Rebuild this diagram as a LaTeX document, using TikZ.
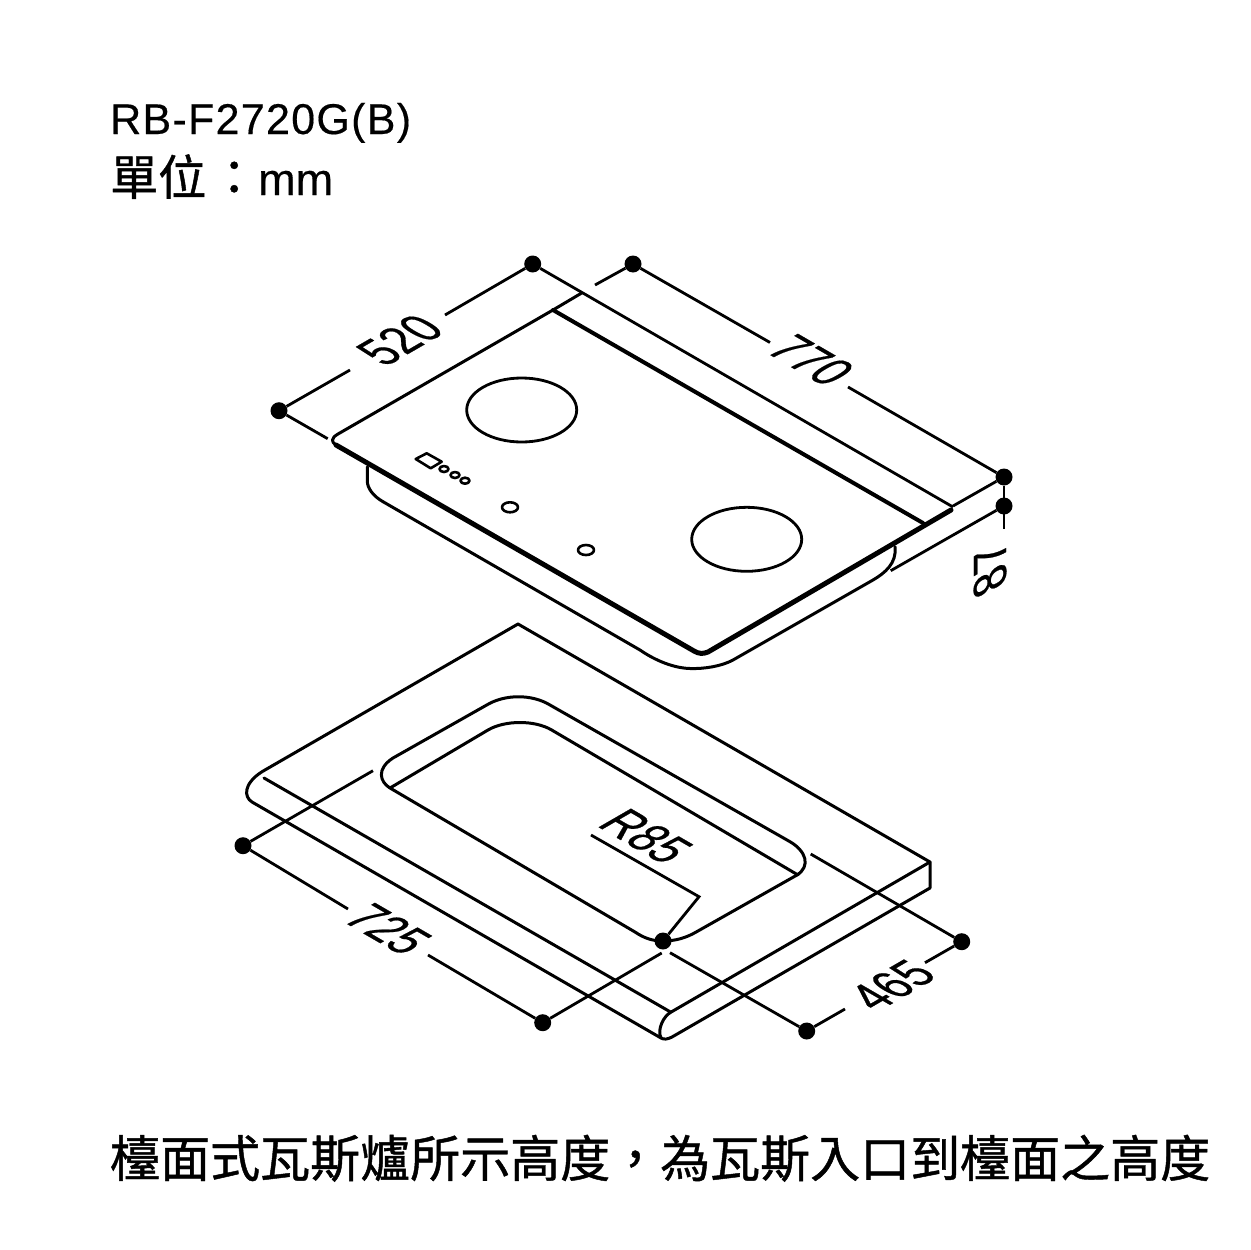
\documentclass[tikz,border=0pt]{standalone}
\usepackage{fontspec}
\setmainfont{Liberation Sans}
\newfontfamily\cjkfont[FakeBold=0.9]{Noto Sans CJK TC}
\newfontfamily\modelfont[FakeBold=0.4,LetterSpace=3]{Liberation Sans}
\newfontfamily\unitfont[FakeBold=0.4]{Liberation Sans}
\newfontfamily\dimfont[FakeBold=0.5]{Liberation Sans}
\tikzset{
    part/.style={line width=3pt,line join=round,line cap=round},
    thickpart/.style={line width=5pt,line join=round,line cap=round},
    dimline/.style={line width=2.8pt},
    dimdot/.style={circle,fill=black,inner sep=0pt,minimum size=17pt},
    dimtext/.style={inner sep=0pt,font=\fontsize{54}{54}\dimfont},
    alongup/.style={dimtext,cm={.69,.4,-.866,.5,(0,0)}},
    alongdown/.style={dimtext,cm={.69,-.4,.866,.5,(0,0)}},
    alongvert/.style={dimtext,cm={0,.8,-.866,-.5,(0,0)}},
    hob/.style={part,line width=2.8pt},
    title/.style={anchor=base west,inner sep=0pt},
}
\begin{document}
\begin{tikzpicture}[x=1pt,y=-1pt]
    \useasboundingbox (0,0) rectangle (1250,1250);

    % texts
    \node[title,font=\fontsize{43}{43}\modelfont] (model) at (110,134) {RB-F2720G(B)};
    \node[title,font=\fontsize{48}{48}\cjkfont] (unit) at (110,195) {單位\hspace{4pt}：\fontsize{45}{45}\unitfont mm};
    \node[title,font=\fontsize{50}{50}\cjkfont] (note) at (110,1177) {檯面式瓦斯爐所示高度，為瓦斯入口到檯面之高度};

    % dots
    \foreach \name/\x/\y in {A/532.7/264,B/633/264,C/279/410.7,D/1004/477,E/1004/506,
                             F/243/845.7,G/542.7/1022.7,R/663/941,I/806.7/1031,J/961.7/941.7}{
        \node[dimdot] (dot\name) at (\x,\y) {};
    }

    % cooktop
    \draw[part] (553,310) -- (338,434) .. controls (331,438) and (331,442) .. (336,445);
    \draw[part] (553,310) -- (581.7,293);
    \draw[thickpart] (336,445) -- (694,651) .. controls (699,654) and (703,654) .. (708,652) -- (951,510);
    \draw[thickpart,line width=4pt] (553,310) -- (923,523);
    \draw[part] (367.3,466.7) -- (367.3,481) .. controls (367.3,488) and (373,496) .. (383,501.7)
        -- (640,650) .. controls (650,657) and (670,668) .. (690,668.5)
        .. controls (705,669) and (722,666) .. (733,660) -- (873,580)
        .. controls (885,573) and (897,563) .. (895,546.7);
    \draw[hob] (521.7,410) ellipse (55 and 32);
    \draw[hob] (746.7,539.3) ellipse (55 and 32);
    \draw[part,line width=2.6pt] (415.7,459) -- (426.7,453.3) -- (441.7,461.7) -- (430.7,468.3) -- cycle;
    \foreach \x/\y in {444/469,455/475,465/480.7}{
        \draw[part,line width=2.6pt] (\x,\y) ellipse (4.5 and 3);
    }
    \draw[part,line width=2.6pt] (510,507.3) ellipse (8 and 5);
    \draw[part,line width=2.6pt] (586,550) ellipse (8 and 5);

    % counter top
    \draw[part] (518,624) -- (930,862) -- (930,888) -- (672,1037)
        .. controls (668,1039) and (664,1040) .. (661,1038) -- (252,802)
        .. controls (244,797) and (243,784) .. (262,771.7) -- cycle;
    \draw[part] (930,862) -- (671.7,1011.7) .. controls (663,1016) and (657,1030) .. (661,1038);
    \draw[part] (264,778) -- (670,1011.7);

    % cut out
    \draw[part] (390,788) .. controls (380,782) and (376,769) .. (393,758)
        -- (486.7,705) .. controls (505,694) and (532,694) .. (550,705)
        -- (790,841.7) .. controls (806,851) and (811,866) .. (797,875)
        -- (696.7,931.7) .. controls (686,938) and (675,941) .. (663,941)
        .. controls (652,941) and (644,938) .. (635,932) -- cycle;
    \draw[part] (390,788) -- (488,730) .. controls (505,720) and (535,720) .. (551.7,730) -- (798,875);

    % free ends of the dimension lines
    \coordinate (endAa) at (445,315);
    \coordinate (endCa) at (350,370);
    \coordinate (endCb) at (327.7,438.7);
    \coordinate (endAb) at (953,507);
    \coordinate (endBa) at (595,285);
    \coordinate (endBb) at (770,342.5);
    \coordinate (endDa) at (848,387);
    \coordinate (endDb) at (953,506);
    \coordinate (endEa) at (890.7,570.7);
    \coordinate (endEb) at (1004,529);
    \coordinate (endFa) at (373,770.7);
    \coordinate (endFb) at (348,909);
    \coordinate (endGa) at (428,955);
    \coordinate (endGb) at (661.7,953);
    \coordinate (endIa) at (670,952.7);
    \coordinate (endIb) at (845,1009);
    \coordinate (endJa) at (925,962.7);
    \coordinate (endJb) at (810.7,854);
    \coordinate (endRa) at (591,835);
    \coordinate (bendR) at (699,896.7);

    % dimension lines
    \draw[dimline] (dotA) -- (endAa);
    \draw[dimline] (dotC) -- (endCa);
    \draw[dimline] (dotC) -- (endCb);
    \draw[dimline] (dotA) -- (endAb);
    \draw[dimline] (dotB) -- (endBa);
    \draw[dimline] (dotB) -- (endBb);
    \draw[dimline] (endDa) -- (dotD);
    \draw[dimline] (dotD) -- (endDb);
    \draw[dimline] (dotE) -- (endEa);
    \draw[dimline] (dotD) -- (endEb);
    \draw[dimline] (dotF) -- (endFa);
    \draw[dimline] (dotF) -- (endFb);
    \draw[dimline] (endGa) -- (dotG);
    \draw[dimline] (dotG) -- (endGb);
    \draw[dimline] (endIa) -- (dotI);
    \draw[dimline] (dotI) -- (endIb);
    \draw[dimline] (endJa) -- (dotJ);
    \draw[dimline] (dotJ) -- (endJb);
    \draw[dimline] (endRa) -- (bendR) -- (dotR);

    % dimension values
    \node[alongup] (w520) at (400,340) {520};
    \node[alongdown] (w770) at (811,360) {770};
    \node[alongvert] (h87) at (990,569) {87};
    \node[alongdown] (w725) at (388,929) {725};
    \node[alongdown] (r85) at (646,836) {R85};
    \node[alongup] (w465) at (892,985) {465};

\end{tikzpicture}
\end{document}
